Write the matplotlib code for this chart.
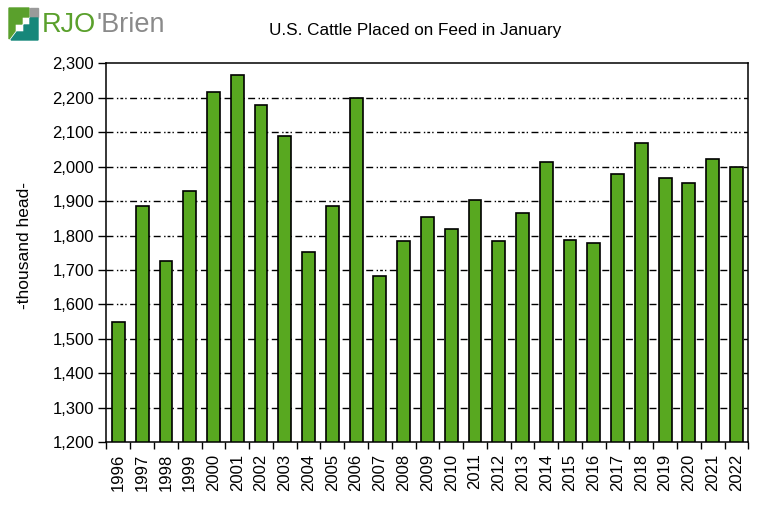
import matplotlib
matplotlib.use("Agg")
import matplotlib.pyplot as plt
from matplotlib.patches import Polygon, Rectangle

# Данные: размещение скота на откорм в январе, тыс. голов
years = [str(y) for y in range(1996, 2023)]
placements = [1550, 1885, 1725, 1930, 2218, 2265, 2179, 2089, 1753, 1886,
              2200, 1684, 1785, 1855, 1820, 1902, 1785, 1866, 2013, 1788,
              1777, 1980, 2068, 1966, 1954, 2022, 1998]
y_ticks = list(range(1200, 2301, 100))

plt.rcParams['font.family'] = ['Liberation Sans', 'DejaVu Sans']

W, H = 763, 516
fig = plt.figure(figsize=(W / 100, H / 100), dpi=100)
ax = fig.add_axes([106.5 / W, 1 - 442.3 / H, 641.8 / W, 379 / H])

x = list(range(len(years)))
ax.bar(x, placements, width=0.54, color='#58a820', edgecolor='black',
       linewidth=1.2, zorder=3)

ax.set_ylim(1200, 2300)
ax.set_xlim(-0.5, len(years) - 0.5)
ax.set_yticks(y_ticks)
ax.set_yticklabels([f'{v:,}' for v in y_ticks], fontsize=12)
ax.set_xticks(x)
ax.set_xticklabels(years, rotation=90, fontsize=12)
ax.set_xticks([i - 0.5 for i in range(len(years) + 1)], minor=True)
ax.tick_params(axis='x', which='major', length=0, pad=8)
ax.tick_params(axis='x', which='minor', length=5, width=1, direction='out')
ax.tick_params(axis='y', length=6, width=1, direction='out', pad=3)

# пунктирная сетка (кроме верхней границы)
for v in y_ticks[1:-1]:
    ax.axhline(v, color='black', linewidth=1.0,
               linestyle=(0, (5, 2.5, 1, 1.5, 2, 1.5, 1, 2.5)), zorder=1)

for s in ax.spines.values():
    s.set_linewidth(1.1)
    s.set_zorder(4)

ax.set_ylabel('-thousand head-', fontsize=12.5)
ax.yaxis.label.set_va('center')
ax.yaxis.set_label_coords(-82 / 641.8, 0.52)

fig.text(415 / W, 1 - 30 / H, 'U.S. Cattle Placed on Feed in January',
         ha='center', va='center', fontsize=12.3)

# логотип
def px(xp, yp):
    return (xp / W, 1 - yp / H)

fig.patches.append(Polygon([px(9, 8), px(29, 8), px(29, 17), px(22, 17),
                            px(22, 24), px(15, 24), px(15, 31), px(9, 39)],
                           closed=True, color='#5aa02c',
                           transform=fig.transFigure))
fig.patches.append(Rectangle(px(30, 17), 8 / W, 9 / H, color='#9a9a9a',
                             transform=fig.transFigure))
fig.patches.append(Polygon([px(30, 18), px(38, 18), px(38, 40), px(11, 40),
                            px(17, 32), px(24, 32), px(24, 25), px(30, 25)],
                           closed=True, color='#16877a',
                           transform=fig.transFigure))

t1 = fig.text(42 / W, 1 - 25 / H, 'RJO', color='#5aa02c', fontsize=19.5,
              ha='left', va='center')
fig.canvas.draw()
bb = t1.get_window_extent()
fig.text(bb.x1 / W, 1 - 25 / H, "'Brien", color='#8a8a8a', fontsize=19.5,
         ha='left', va='center')

plt.savefig('out.png', dpi=100)
